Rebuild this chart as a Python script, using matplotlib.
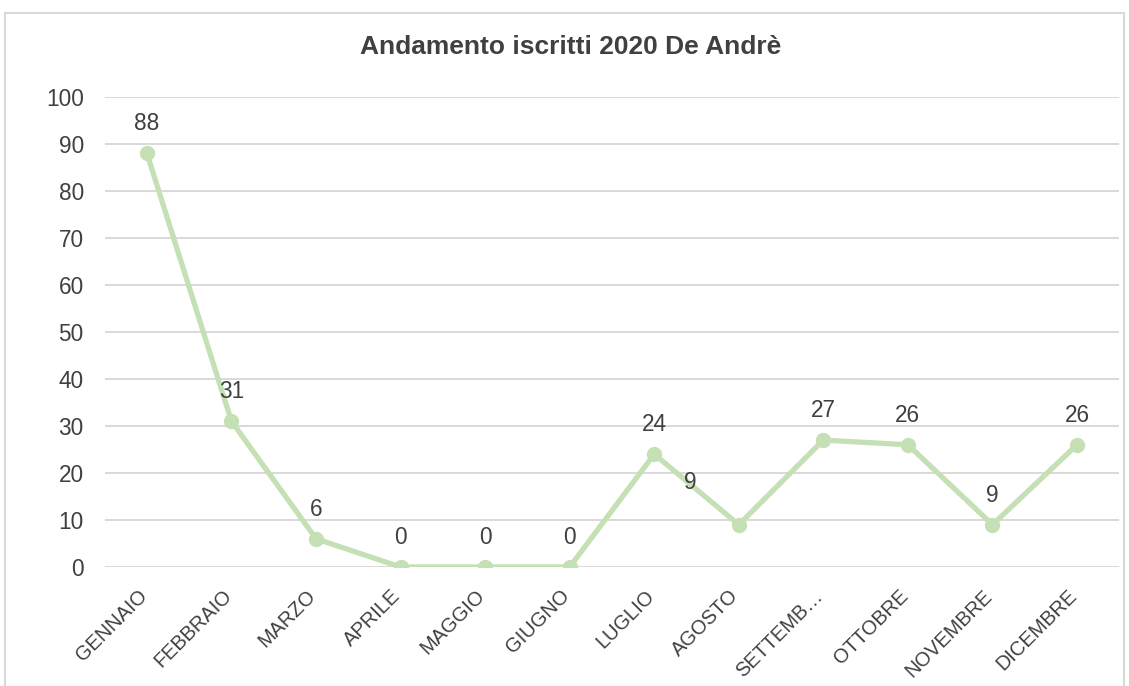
import matplotlib
matplotlib.use("Agg")
import matplotlib.pyplot as plt
import matplotlib.transforms as mtransforms
from matplotlib.patches import Rectangle

# Data
mesi = ['GENNAIO', 'FEBBRAIO', 'MARZO', 'APRILE', 'MAGGIO', 'GIUGNO',
        'LUGLIO', 'AGOSTO', 'SETTEMB…', 'OTTOBRE', 'NOVEMBRE', 'DICEMBRE']
iscritti = [88, 31, 6, 0, 0, 0, 24, 9, 27, 26, 9, 26]
y_ticks = [0, 10, 20, 30, 40, 50, 60, 70, 80, 90, 100]

# label offsets in points (Excel put the AGOSTO label off to the left)
label_offsets = {7: (-35, 22)}

plt.rcParams['font.family'] = ['Liberation Sans', 'DejaVu Sans']

line_color = '#c5e0b4'
text_color = '#404040'
grid_color = '#d9d9d9'

fig = plt.figure(figsize=(11.29, 6.86), dpi=100)
ax = fig.add_axes([0.0927, 0.1735, 0.8987, 0.6851])

x = list(range(len(mesi)))
ax.plot(x, iscritti, color=line_color, linewidth=3.8, marker='o',
        markersize=10, solid_capstyle='round', zorder=3)

for i, v in enumerate(iscritti):
    dx, dy = label_offsets.get(i, (0, 13))
    ax.annotate(str(v), (i, v), xytext=(dx, dy), textcoords='offset points',
                ha='center', va='bottom', fontsize=16.3, color=text_color, zorder=4)

ax.set_xlim(-0.5, len(mesi) - 0.5)
ax.set_ylim(0, 100)
ax.set_yticks(y_ticks)
ax.yaxis.grid(True, color=grid_color, linewidth=1.4)
ax.set_axisbelow(True)
for s in ax.spines.values():
    s.set_visible(False)

ax.set_xticks(x)
ax.set_xticklabels(mesi, rotation=45, ha='right', rotation_mode='anchor')
ax.tick_params(axis='both', length=0, colors=text_color)
ax.tick_params(axis='y', pad=15, labelsize=16.3)
ax.tick_params(axis='x', pad=14, labelsize=14.4)

shift = mtransforms.ScaledTranslation(-7 / 72, 0, fig.dpi_scale_trans)
for lbl in ax.get_xticklabels():
    lbl.set_transform(lbl.get_transform() + shift)

fig.text(0.505, 0.931, 'Andamento iscritti 2020 De Andrè', ha='center', va='center',
         fontsize=19, fontweight='bold', color=text_color)

# outer chart border
fig.patches.append(Rectangle((5 / 1129, -0.05), 1119 / 1129, 1.05 - 13 / 686,
                             transform=fig.transFigure, fill=False,
                             edgecolor=grid_color, linewidth=1.5))

fig.savefig('out.png', dpi=100)
